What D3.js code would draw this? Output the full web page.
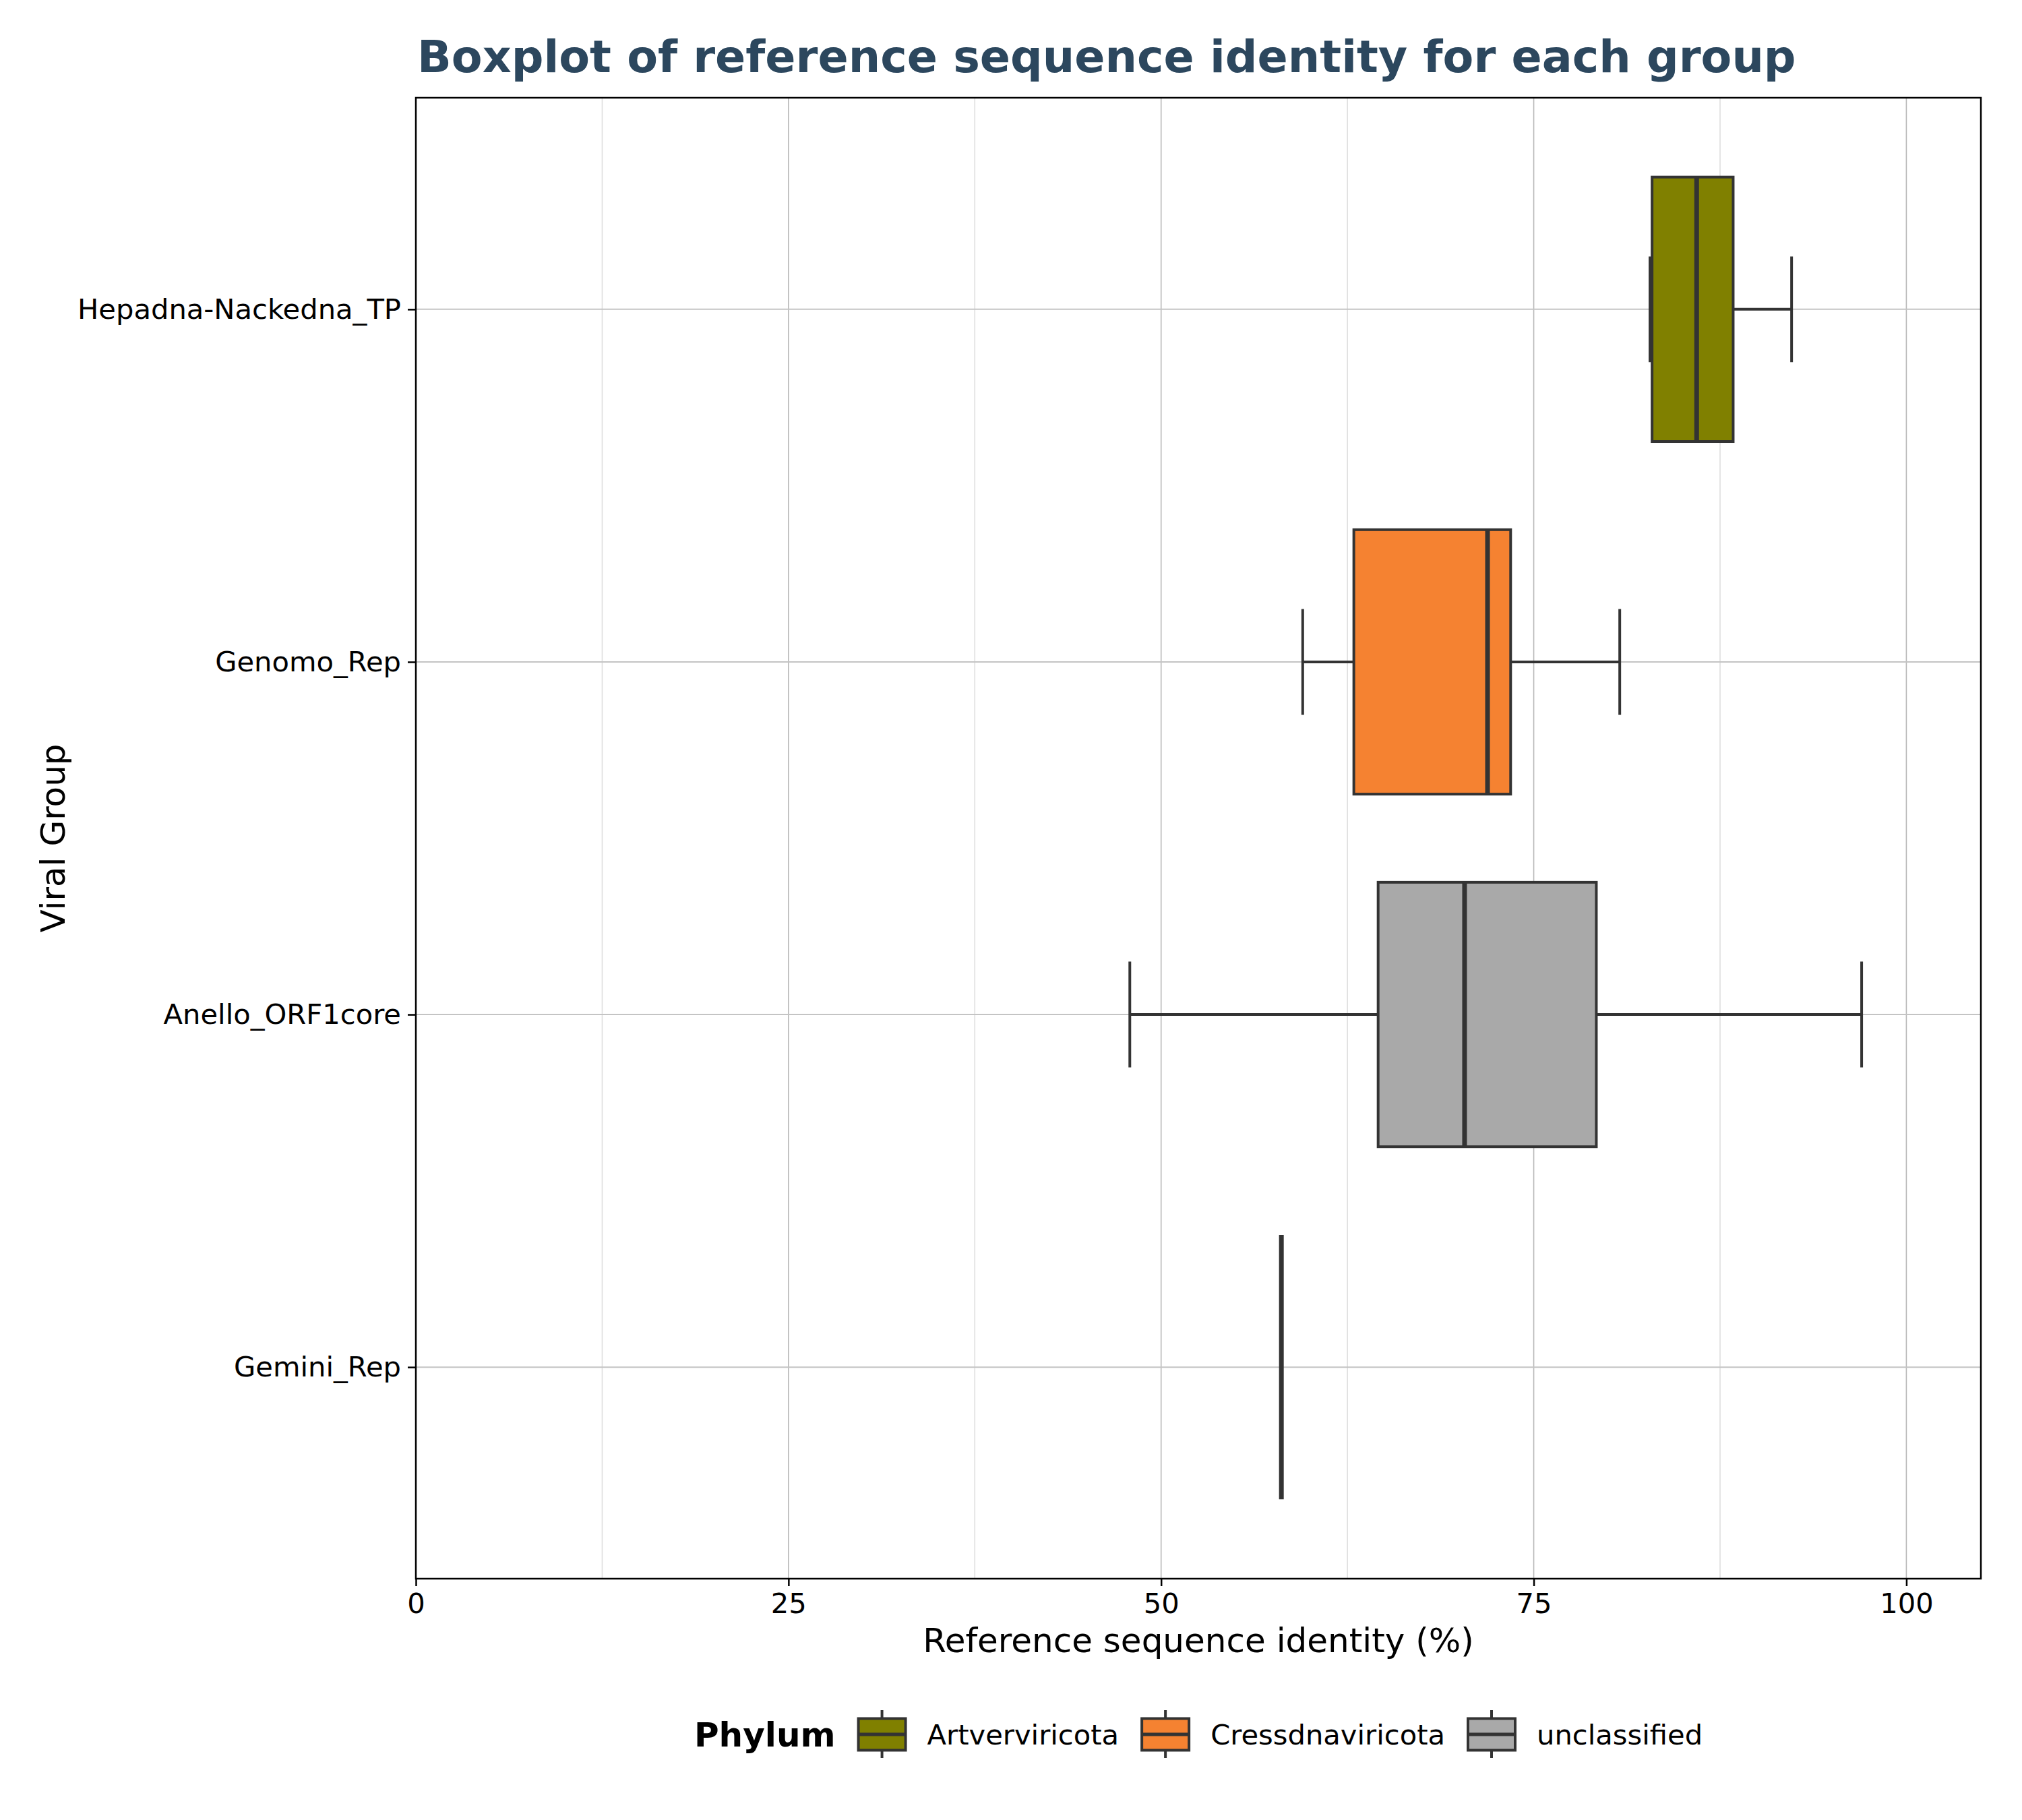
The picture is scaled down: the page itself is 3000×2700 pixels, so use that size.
<!DOCTYPE html>
<html>
<head>
<meta charset="utf-8">
<script src="https://cdn.jsdelivr.net/npm/d3@7"></script>
<style>
  html, body { margin: 0; padding: 0; background: #ffffff; }
  svg { display: block; font-family: "DejaVu Sans", sans-serif; }
</style>
</head>
<body>
<script>
// ---- Data ----
const categories = ["Hepadna-Nackedna_TP", "Genomo_Rep", "Anello_ORF1core", "Gemini_Rep"];
const phylumOf   = ["Artverviricota", "Cressdnaviricota", "unclassified", "unclassified"];
const whiskerLow  = [82.8, 59.5, 47.9, 58.07];
const q1Values    = [82.94, 62.93, 64.56, 58.07];
const medianValues= [85.93, 71.9, 70.36, 58.07];
const q3Values    = [88.38, 73.45, 79.2, 58.07];
const whiskerHigh = [92.3, 80.77, 97.0, 58.07];

const phyla = ["Artverviricota", "Cressdnaviricota", "unclassified"];
const phylumColors = ["#808000", "#f58231", "#a9a9a9"];
const xTickValues = [0, 25, 50, 75, 100];
const xMinorTickValues = [12.5, 37.5, 62.5, 87.5];

const titleText = "Boxplot of reference sequence identity for each group";
const xLabelText = "Reference sequence identity (%)";
const yLabelText = "Viral Group";
const legendTitle = "Phylum";

// ---- Layout ----
const W = 3000, H = 2700;
const plotL = 617, plotR = 2939, plotT = 145, plotB = 2342;
const edge = "#333333";

const svg = d3.select("body").append("svg")
  .attr("width", W).attr("height", H)
  .attr("viewBox", `0 0 ${W} ${H}`);

svg.append("rect").attr("width", W).attr("height", H).attr("fill", "#fff");

const x = d3.scaleLinear().domain([0, 105]).range([plotL, plotR]);
const y = d3.scaleLinear().domain([-0.6, 3.6]).range([plotT, plotB]);
const color = d3.scaleOrdinal().domain(phyla).range(phylumColors);

const boxHalf = 0.375;   // in category units
const capHalf = 0.15;

// Grid
const grid = svg.append("g");
grid.selectAll("line.minor").data(xMinorTickValues).join("line")
  .attr("x1", d => x(d)).attr("x2", d => x(d))
  .attr("y1", plotT).attr("y2", plotB)
  .attr("stroke", "#dcdcdc").attr("stroke-width", 1.5);
grid.selectAll("line.major").data(xTickValues).join("line")
  .attr("x1", d => x(d)).attr("x2", d => x(d))
  .attr("y1", plotT).attr("y2", plotB)
  .attr("stroke", "#b8b8b8").attr("stroke-width", 1.6);
grid.selectAll("line.ygrid").data(categories).join("line")
  .attr("x1", plotL).attr("x2", plotR)
  .attr("y1", (d, i) => y(i)).attr("y2", (d, i) => y(i))
  .attr("stroke", "#c4c4c4").attr("stroke-width", 2);

// Boxes
const boxes = svg.append("g");
categories.forEach((cat, i) => {
  const g = boxes.append("g");
  const cy = y(i);
  // whiskers
  g.append("line").attr("x1", x(whiskerLow[i])).attr("x2", x(q1Values[i]))
    .attr("y1", cy).attr("y2", cy).attr("stroke", edge).attr("stroke-width", 4);
  g.append("line").attr("x1", x(q3Values[i])).attr("x2", x(whiskerHigh[i]))
    .attr("y1", cy).attr("y2", cy).attr("stroke", edge).attr("stroke-width", 4);
  // caps
  [whiskerLow[i], whiskerHigh[i]].forEach(v => {
    g.append("line").attr("x1", x(v)).attr("x2", x(v))
      .attr("y1", y(i - capHalf)).attr("y2", y(i + capHalf))
      .attr("stroke", edge).attr("stroke-width", 4);
  });
  // box
  g.append("rect")
    .attr("x", x(q1Values[i])).attr("width", Math.max(0, x(q3Values[i]) - x(q1Values[i])))
    .attr("y", y(i - boxHalf)).attr("height", y(i + boxHalf) - y(i - boxHalf))
    .attr("fill", color(phylumOf[i])).attr("stroke", edge).attr("stroke-width", 4);
  // median
  g.append("line").attr("x1", x(medianValues[i])).attr("x2", x(medianValues[i]))
    .attr("y1", y(i - boxHalf)).attr("y2", y(i + boxHalf))
    .attr("stroke", edge).attr("stroke-width", 7);
});

// Frame
svg.append("rect").attr("x", plotL).attr("y", plotT)
  .attr("width", plotR - plotL).attr("height", plotB - plotT)
  .attr("fill", "none").attr("stroke", "#000").attr("stroke-width", 2.5);

// Axes
const xAxis = svg.append("g").attr("transform", `translate(0,${plotB})`)
  .call(d3.axisBottom(x).tickValues(xTickValues).tickFormat(d3.format("d")).tickSize(11).tickPadding(10));
const yAxis = svg.append("g").attr("transform", `translate(${plotL},0)`)
  .call(d3.axisLeft(d3.scaleOrdinal().domain(categories).range(categories.map((c, i) => y(i))))
        .tickSize(12).tickPadding(10));
[xAxis, yAxis].forEach(a => {
  a.select(".domain").remove();
  a.selectAll(".tick line").attr("stroke", "#000").attr("stroke-width", 2.5);
  a.selectAll(".tick text").attr("fill", "#000")
    .style("font-family", "'DejaVu Sans', sans-serif").style("font-size", "41.67px");
});

// Title
svg.append("text").attr("x", 619).attr("y", 107)
  .attr("fill", "#2c475e").style("font-size", "66.7px").style("font-weight", "bold")
  .text(titleText);

// Axis labels
svg.append("text").attr("x", (plotL + plotR) / 2).attr("y", 2451)
  .attr("text-anchor", "middle").style("font-size", "50px").attr("fill", "#000")
  .text(xLabelText);
svg.append("text").attr("transform", `translate(96,${(plotT + plotB) / 2}) rotate(-90)`)
  .attr("text-anchor", "middle").style("font-size", "50px").attr("fill", "#000")
  .text(yLabelText);

// Legend
const legY = 2573;
const leg = svg.append("g");
const lt = leg.append("text").attr("x", 0).attr("y", legY).attr("dy", "0.36em")
  .style("font-size", "50px").style("font-weight", "bold").attr("fill", "#000").text(legendTitle);
let cursor = lt.node().getComputedTextLength() + 34;
phyla.forEach((p, i) => {
  const g = leg.append("g").attr("transform", `translate(${cursor},0)`);
  g.append("line").attr("x1", 35).attr("x2", 35).attr("y1", legY - 36).attr("y2", legY + 35)
    .attr("stroke", edge).attr("stroke-width", 4);
  g.append("rect").attr("x", 0).attr("y", legY - 23.5).attr("width", 70).attr("height", 47)
    .attr("fill", phylumColors[i]).attr("stroke", edge).attr("stroke-width", 4);
  g.append("line").attr("x1", 0).attr("x2", 70).attr("y1", legY).attr("y2", legY)
    .attr("stroke", edge).attr("stroke-width", 5);
  const t = g.append("text").attr("x", 102).attr("y", legY).attr("dy", "0.36em")
    .style("font-size", "41.67px").attr("fill", "#000").text(p);
  cursor += 102 + t.node().getComputedTextLength() + (i < phyla.length - 1 ? 34 : 0);
});
const legW = cursor;
leg.attr("transform", `translate(${(plotL + plotR) / 2 - legW / 2},0)`);
</script>
</body>
</html>
